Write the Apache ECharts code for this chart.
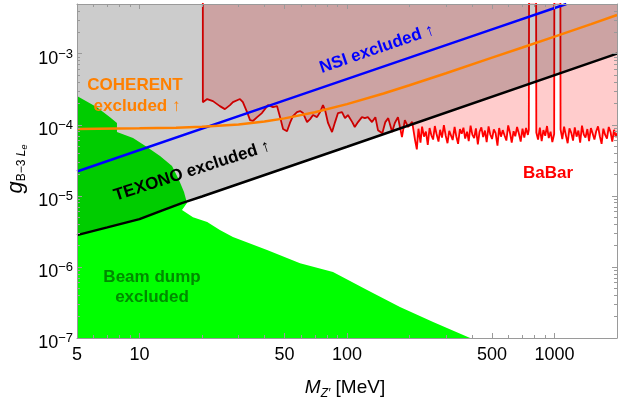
<!DOCTYPE html>
<html><head><meta charset="utf-8">
<script src="https://cdn.jsdelivr.net/npm/echarts@6/dist/echarts.min.js"></script>
<style>html,body{margin:0;padding:0;background:#fff}#c{width:623px;height:402px}</style>
</head><body><div id="c"></div>
<script>
const FONT = '"Liberation Sans", Arial, Helvetica, sans-serif';

const xMajorTicks = [5, 10, 50, 100, 500, 1000];
const xMinorTicks = [6, 7, 8, 9, 20, 30, 40, 60, 70, 80, 90, 200, 300, 400, 600, 700, 800, 900, 2000];
const yMajorTicks = [1e-7, 1e-6, 1e-5, 1e-4, 1e-3];
const yMinorTicks = [2e-7,3e-7,4e-7,5e-7,6e-7,7e-7,8e-7,9e-7,
                     2e-6,3e-6,4e-6,5e-6,6e-6,7e-6,8e-6,9e-6,
                     2e-5,3e-5,4e-5,5e-5,6e-5,7e-5,8e-5,9e-5,
                     2e-4,3e-4,4e-4,5e-4,6e-4,7e-4,8e-4,9e-4,
                     2e-3,3e-3,4e-3];

// [M_Z' (MeV), g]
const beamDump = [[5,2.54e-4],[6.24,1.77e-4],[7.21,1.28e-4],[7.79,1.06e-4],[7.79,7.9e-5],[9.31,6.5e-5],
  [10.87,4.86e-5],[12.56,3.63e-5],[14.35,2.62e-5],[15.5,1.67e-5],[16.39,1.13e-5],[16.94,7.9e-6],
  [16.03,6.3e-6],[18.11,5.0e-6],[21.2,4.28e-6],[24.4,3.3e-6],[28.2,2.63e-6],[41.2,1.73e-6],
  [59.4,1.13e-6],[85.6,8.5e-7],[125,4.73e-7],[180,2.73e-7],[260,1.68e-7],[392,1e-7]];

const texono = [[5,2.8e-6],[7,3.6e-6],[10,4.7e-6],[13,6.3e-6],[16,7.9e-6],[20,9.8e-6],[100,4.9e-5],[2000,1.0e-3]];
const nsi = [[5,2.2e-5],[50,2.2e-4],[500,2.2e-3],[1140,5.0e-3]];
const coherent = [[5,8.7e-5],[10,8.9e-5],[15,9.1e-5],[20,9.4e-5],[30,1.01e-4],[40,1.11e-4],[50,1.23e-4],
  [70,1.50e-4],[100,1.95e-4],[150,2.75e-4],[200,3.6e-4],[300,5.3e-4],[500,8.8e-4],[700,1.22e-3],
  [1000,1.74e-3],[1500,2.6e-3],[2000,3.5e-3]];

const babar = [[20.2,1e-2],[20.2,2.08e-4],[21.2,2.30e-4],[22.6,2.15e-4],[24.4,1.83e-4],[25.8,1.66e-4],[27.3,1.89e-4],
  [28.2,2.08e-4],[30.5,2.30e-4],[31.5,2.08e-4],[33.0,1.51e-4],[34.1,1.16e-4],[35.2,1.13e-4],[36.9,1.28e-4],
  [38.9,1.46e-4],[41.6,1.89e-4],[44.0,1.77e-4],[46.0,1.83e-4],[47.6,1.28e-4],[49.2,8.7e-5],[51.4,8.1e-5],
  [53.1,1.06e-4],[54.9,1.32e-4],[57.4,1.51e-4],[59.4,1.56e-4],[61.4,1.46e-4],[64.2,1.09e-4],[66.4,1.20e-4],
  [68.6,1.37e-4],[71.7,1.28e-4],[74.2,1.51e-4],[76.6,1.89e-4],[78.4,1.61e-4],[81.0,1.06e-4],[84.7,7.9e-5],
  [87.6,1.09e-4],[90.5,1.46e-4],[94.6,1.51e-4],[97.8,1.24e-4],[101,1.37e-4],[106,1.09e-4],[109,9.3e-5],
  [113,1.09e-4],[118,1.28e-4],[122,1.24e-4],[126,1.28e-4],[132,1.09e-4],[137,1.28e-4],[141,8.4e-5],
  [148,7.6e-5],[153,1.09e-4],[158,1.24e-4],[165,7.9e-5],[170,1.06e-4],[176,1.28e-4],[184,6.7e-5],
  [190,1.16e-4],[197,9.3e-5],[206,1.1e-4],
  [213,6.0e-5],[217,4.5e-5],[221,8.8e-5],[226,5.6e-5],[230,9.4e-5],[235,6.8e-5],[240,8.0e-5],[245,5.2e-5],
  [250,9.0e-5],[255,7.1e-5],[260,6.2e-5],[265,9.6e-5],[270,7.4e-5],[276,5.8e-5],[281,8.5e-5],[287,6.6e-5],
  [293,9.9e-5],[299,7.0e-5],[305,5.5e-5],[311,8.2e-5],[317,7.8e-5],[323,6.1e-5],[330,9.3e-5],[336,6.9e-5],
  [343,5.4e-5],[350,8.7e-5],[357,7.5e-5],[364,9.1e-5],[371,6.4e-5],[379,8.0e-5],[386,5.9e-5],[394,9.7e-5],
  [402,7.2e-5],[410,6.5e-5],[418,8.9e-5],[427,5.3e-5],[435,7.9e-5],[444,9.2e-5],[453,6.7e-5],[462,8.3e-5],
  [471,5.7e-5],[481,9.5e-5],[490,7.3e-5],[500,6.3e-5],[510,8.6e-5],[520,7.6e-5],[531,5.1e-5],[541,9.0e-5],
  [552,6.8e-5],[563,8.4e-5],[575,7.0e-5],[586,6.0e-5],[598,9.8e-5],[610,7.7e-5],[622,5.6e-5],[635,8.1e-5],
  [647,6.9e-5],[660,9.3e-5],[674,7.4e-5],[687,5.8e-5],[701,8.8e-5],[715,6.6e-5],[729,9.0e-5],[744,7.2e-5],
  [752,8.5e-5],[754,1e-2],[815,1e-2],
  [817,7.8e-5],[833,6.2e-5],[850,9.1e-5],[867,5.9e-5],[884,8.4e-5],[902,7.0e-5],[920,9.6e-5],[938,6.5e-5],
  [957,8.0e-5],[976,5.7e-5],[996,7.4e-5],[998,1e-2],[1067,1e-2],
  [1069,8.6e-5],[1090,6.3e-5],[1112,9.4e-5],[1134,7.1e-5],[1157,5.5e-5],[1180,8.9e-5],[1204,7.7e-5],
  [1228,6.0e-5],[1252,9.2e-5],[1277,6.8e-5],[1303,8.3e-5],[1329,5.6e-5],[1356,9.7e-5],[1383,7.3e-5],
  [1410,6.6e-5],[1439,8.7e-5],[1467,5.9e-5],[1497,9.0e-5],[1527,7.5e-5],[1557,6.2e-5],[1588,8.1e-5],
  [1620,9.5e-5],[1653,6.9e-5],[1686,5.4e-5],[1719,8.8e-5],[1754,7.2e-5],[1789,6.4e-5],[1825,9.3e-5],
  [1861,7.9e-5],[1898,5.8e-5],[1936,8.5e-5],[1975,6.7e-5],[2000,7.6e-5]];

const X_MIN = 5, X_MAX = 2000, Y_MIN = 1e-7, Y_MAX = 5e-3;
const FRAME = '#9a9a9a';

function xAx(position, ticks, len, showLine, labels) {
  return {
    type: 'log', logBase: 10, min: X_MIN, max: X_MAX, position, z: 10,
    axisLine: { show: showLine, lineStyle: { color: FRAME, width: 1 } },
    splitLine: { show: false }, minorTick: { show: false },
    axisTick: { show: true, inside: true, length: len, customValues: ticks, lineStyle: { color: FRAME } },
    axisLabel: labels ? { show: true, customValues: ticks, margin: 8, color: '#000', fontSize: 18, fontFamily: FONT,
                          formatter: v => String(Math.round(v)) }
                      : { show: false }
  };
}
function yAx(position, ticks, len, showLine, labels) {
  return {
    type: 'log', logBase: 10, min: Y_MIN, max: Y_MAX, position, z: 10,
    axisLine: { show: showLine, lineStyle: { color: FRAME, width: 1 } },
    splitLine: { show: false }, minorTick: { show: false },
    axisTick: { show: true, inside: true, length: len, customValues: ticks, lineStyle: { color: FRAME } },
    axisLabel: labels ? {
      show: true, customValues: ticks, margin: 4, color: '#000', fontFamily: FONT,
      formatter: v => { const e = Math.round(Math.log10(v)); return '{b|10}{s|' + (e < 0 ? '\u2212' : '') + Math.abs(e) + '}'; },
      rich: {
        b: { fontSize: 18, lineHeight: 18, padding: [5, 0, 0, 0], verticalAlign: 'top', fontFamily: FONT, color: '#000' },
        s: { fontSize: 13, lineHeight: 13, padding: [3, 0, 0, 0], verticalAlign: 'top', fontFamily: FONT, color: '#000' }
      }
    } : { show: false }
  };
}

const bold = (size) => 'bold ' + size + 'px ' + FONT;
const chart = echarts.init(document.getElementById('c'), null, { renderer: 'canvas' });
chart.setOption({
  animation: false,
  backgroundColor: '#fff',
  grid: { left: 77, right: 6, top: 4, bottom: 64, containLabel: false, outerBoundsMode: 'none' },
  xAxis: [
    xAx('bottom', xMajorTicks, 5, true, true),
    xAx('bottom', xMinorTicks, 3, false, false),
    xAx('top', xMajorTicks, 5, true, false),
    xAx('top', xMinorTicks, 3, false, false)
  ],
  yAxis: [
    yAx('left', yMajorTicks, 5, true, true),
    yAx('left', yMinorTicks, 3, false, false),
    yAx('right', yMajorTicks, 5, true, false),
    yAx('right', yMinorTicks, 3, false, false)
  ],
  series: [
    { name: 'Beam dump', type: 'line', data: beamDump, symbol: 'none', silent: true, z: 1,
      lineStyle: { width: 0 }, areaStyle: { color: '#00ff00', opacity: 1, origin: 'start' } },
    { name: 'BaBar', type: 'line', data: babar, symbol: 'none', silent: true, z: 2,
      lineStyle: { color: '#ff0000', width: 1.8 }, areaStyle: { color: 'rgba(255,0,0,0.2)', opacity: 1, origin: 'end' } },
    { name: 'TEXONO', type: 'line', data: texono, symbol: 'none', silent: true, z: 3,
      lineStyle: { color: '#000', width: 2.5 }, areaStyle: { color: 'rgba(0,0,0,0.2)', opacity: 1, origin: 'end' } },
    { name: 'NSI', type: 'line', data: nsi, symbol: 'none', silent: true, z: 4,
      lineStyle: { color: '#0000ff', width: 2.5 } },
    { name: 'COHERENT', type: 'line', data: coherent, symbol: 'none', silent: true, z: 5, smooth: false,
      lineStyle: { color: '#ff8000', width: 2.5 } }
  ],
  graphic: [
    { type: 'text', x: 135, y: 85, z: 100, style: { text: 'COHERENT', font: bold(17), fill: '#ff8000', align: 'center', verticalAlign: 'middle' } },
    { type: 'text', x: 137, y: 106, z: 100, style: { text: 'excluded \u2191', font: bold(17), fill: '#ff8000', align: 'center', verticalAlign: 'middle' } },
    { type: 'text', x: 377, y: 49, z: 100, rotation: 19 * Math.PI / 180, style: { text: 'NSI excluded \u2191', font: bold(17), fill: '#0000ff', align: 'center', verticalAlign: 'middle' } },
    { type: 'text', x: 192, y: 171, z: 100, rotation: 18 * Math.PI / 180, style: { text: 'TEXONO excluded \u2191', font: bold(17), fill: '#000', align: 'center', verticalAlign: 'middle' } },
    { type: 'text', x: 548, y: 173, z: 100, style: { text: 'BaBar', font: bold(17), fill: '#ff0000', align: 'center', verticalAlign: 'middle' } },
    { type: 'text', x: 152, y: 277, z: 100, style: { text: 'Beam dump', font: bold(17), fill: '#008a00', align: 'center', verticalAlign: 'middle' } },
    { type: 'text', x: 152, y: 297, z: 100, style: { text: 'excluded', font: bold(17), fill: '#008a00', align: 'center', verticalAlign: 'middle' } },
    { type: 'text', x: 16, y: 169, z: 100, rotation: Math.PI / 2,
      style: { text: '{g|g}{s|B\u22123 }{L|L}{e|e}', align: 'center', verticalAlign: 'middle', fill: '#000',
        rich: {
          g: { fontSize: 22, lineHeight: 22, fontStyle: 'italic', fontFamily: FONT, verticalAlign: 'top', color: '#000' },
          s: { fontSize: 12, lineHeight: 12, padding: [11, 0, 0, 0], fontFamily: FONT, verticalAlign: 'top', color: '#000' },
          L: { fontSize: 12, lineHeight: 12, padding: [11, 0, 0, 0], fontStyle: 'italic', fontFamily: FONT, verticalAlign: 'top', color: '#000' },
          e: { fontSize: 9, lineHeight: 9, padding: [15, 0, 0, 0], fontStyle: 'italic', fontFamily: FONT, verticalAlign: 'top', color: '#000' }
        } } },
    { type: 'text', x: 345, y: 388, z: 100,
      style: { text: '{m|M}{z|Z\u2032}{u| [MeV]}', align: 'center', verticalAlign: 'middle', fill: '#000',
        rich: {
          m: { fontSize: 19, lineHeight: 19, fontStyle: 'italic', fontFamily: FONT, verticalAlign: 'top', color: '#000' },
          z: { fontSize: 12, lineHeight: 12, padding: [9, 0, 0, 0], fontStyle: 'italic', fontFamily: FONT, verticalAlign: 'top', color: '#000' },
          u: { fontSize: 19, lineHeight: 19, fontFamily: FONT, verticalAlign: 'top', color: '#000' }
        } } }
  ]
});
</script></body></html>
